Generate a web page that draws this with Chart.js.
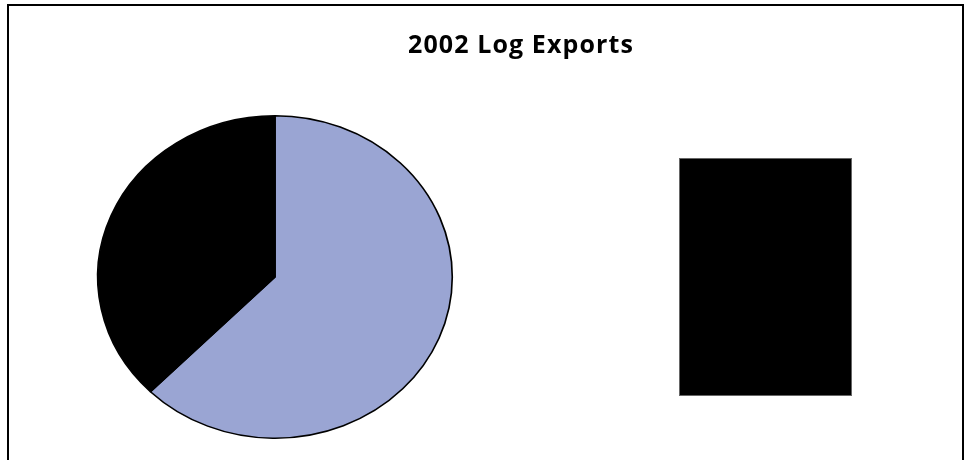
<!DOCTYPE html>
<html>
<head>
<meta charset="utf-8">
<script src="https://cdn.jsdelivr.net/npm/chart.js@4"></script>
<style>
  body { margin: 0; background: #fff; }
  #frame {
    position: absolute; left: 7px; top: 4px; width: 957px; height: 470px;
    border: 2px solid #000; box-sizing: border-box;
  }
  #title {
    position: absolute; left: 0; width: 1042px; top: 26px; text-align: center;
    font: bold 25px "Open Sans", sans-serif; letter-spacing: 1.1px; color: #000;
  }
  #legendBox {
    position: absolute; left: 679px; top: 158px; width: 173px; height: 238px;
    background: #000; border: 1px solid #666; box-sizing: border-box;
  }
  #wrap { position: absolute; left: 0; top: 0; width: 965px; height: 460px; }
</style>
</head>
<body>
<div id="frame"></div>
<div id="wrap"><canvas id="pie"></canvas></div>
<div id="title">2002 Log Exports</div>
<div id="legendBox"></div>
<script>
const titleText = "2002 Log Exports";
const categories = ["Share A", "Share B"];
const shares = [62.4, 37.6];
const sliceColors = ["#9AA5D3", "#000000"];

// the reference pie is a bit wider than tall, stretch it around its centre
const stretch = 177 / 161;
const ovalPie = {
  id: "ovalPie",
  beforeDatasetsDraw(chart) {
    const ctx = chart.ctx;
    const arc = chart.getDatasetMeta(0).data[0];
    ctx.save();
    ctx.translate(arc.x, arc.y);
    ctx.scale(stretch, 1);
    ctx.translate(-arc.x, -arc.y);
  },
  afterDatasetsDraw(chart) {
    chart.ctx.restore();
  }
};

document.getElementById("title").textContent = titleText;

new Chart(document.getElementById("pie"), {
  type: "pie",
  data: {
    labels: categories,
    datasets: [{
      data: shares,
      backgroundColor: sliceColors,
      borderColor: "#000",
      borderWidth: 1.5
    }]
  },
  options: {
    responsive: true,
    maintainAspectRatio: false,
    animation: false,
    layout: { padding: { left: 113, top: 115, right: 528, bottom: 21 } },
    plugins: {
      legend: { display: false },
      title: { display: false },
      tooltip: { enabled: false }
    }
  },
  plugins: [ovalPie]
});
</script>
</body>
</html>
